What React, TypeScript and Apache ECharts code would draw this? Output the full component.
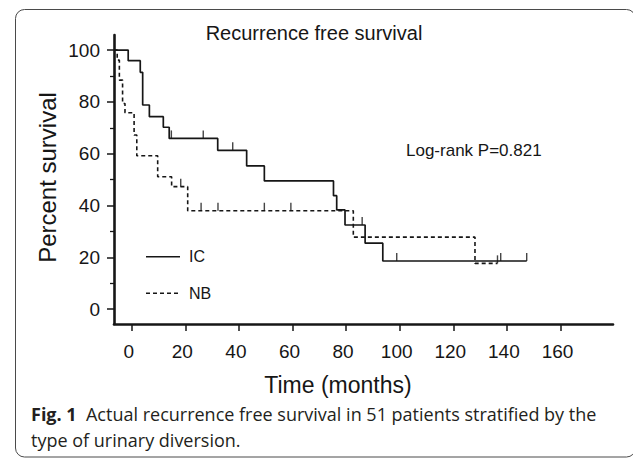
import React, { useEffect, useRef } from "react";
import * as echarts from "echarts";

// ---- Data ----
const xTicks = [0, 20, 40, 60, 80, 100, 120, 140, 160];
const yTicks = [0, 20, 40, 60, 80, 100];
const yMinorTicks = [10, 30, 50, 70, 90];

const startTime = -6.6;

// IC group (solid): event times (months) and survival (%) after each step
const icTimes = [startTime, -1.3, 3.2, 4.1, 6.6, 11.8, 14.0, 32.1, 42.9, 49.5, 75.3, 76.5, 79.6, 87.1, 93.7, 147.4];
const icSurv = [100, 95.9, 91.4, 78.8, 74.3, 70.2, 65.9, 61.3, 55.3, 49.5, 43.8, 38.3, 32.5, 25.5, 18.6, 18.6];
const icCensorTimes = [14.8, 26.7, 37.7, 86.0, 98.9, 137.7, 147.4];
const icCensorSurv = [65.9, 65.9, 61.3, 32.5, 18.6, 18.6, 18.6];

// NB group (dashed)
const nbTimes = [startTime, -5.4, -4.6, -3.4, -2.5, 0.9, 1.9, 9.7, 14.9, 20.9, 82.7, 128.1, 136.5];
const nbSurv = [100, 96.1, 88.4, 79.4, 75.8, 67.2, 59.2, 51.1, 47.3, 38.0, 27.8, 17.7, 17.7];
const nbCensorTimes = [18.3, 25.9, 32.2, 49.5, 59.4, 136.5];
const nbCensorSurv = [47.3, 38.0, 38.0, 38.0, 38.0, 17.7];

const chartTitle = "Recurrence free survival";
const yName = "Percent survival";
const xName = "Time (months)";
const statText = "Log-rank P=0.821";
const legendNames = ["IC", "NB"];
const captionLine1 = "  Actual recurrence free survival in 51 patients stratified by the";
const captionLabel = "Fig. 1";
const captionLine2 = "type of urinary diversion.";

const FONT = "'Liberation Sans', Arial, sans-serif";
const CAP_FONT = "'Open Sans', sans-serif";
const INK = "#161616";

export default function App() {
  const ref = useRef<HTMLDivElement>(null);

  useEffect(() => {
    if (!ref.current) return;
    const chart = echarts.init(ref.current, null, { renderer: "svg" });

    const pair = (t: number[], s: number[]) => t.map((v, i) => [v, s[i]]);

    const option: any = {
      animation: false,
      backgroundColor: "#ffffff",
      grid: { left: 114, top: 35, width: 499, height: 289, containLabel: false },
      xAxis: {
        type: "value",
        min: -6.6,
        max: 179.6,
        axisLine: { show: true, onZero: false, lineStyle: { color: INK, width: 2.6 } },
        axisTick: { show: true, customValues: xTicks, length: 7, lineStyle: { color: INK, width: 1.5 } },
        axisLabel: {
          customValues: xTicks,
          fontSize: 19,
          fontFamily: FONT,
          color: INK,
          margin: 18,
          padding: [0, 6, 0, 0],
        },
        splitLine: { show: false },
      },
      yAxis: [
        {
          type: "value",
          min: -5.7,
          max: 105.8,
          axisLine: { show: true, onZero: false, lineStyle: { color: INK, width: 2.6 } },
          axisTick: { show: true, customValues: yTicks, length: 7, lineStyle: { color: INK, width: 1.5 } },
          axisLabel: { customValues: yTicks, fontSize: 19, fontFamily: FONT, color: INK, margin: 14 },
          splitLine: { show: false },
        },
        {
          type: "value",
          min: -5.7,
          max: 105.8,
          position: "left",
          axisLine: { show: false, onZero: false },
          axisTick: { show: true, customValues: yMinorTicks, length: 4, lineStyle: { color: INK, width: 1.3 } },
          axisLabel: { show: false },
          splitLine: { show: false },
        },
      ],
      series: [
        {
          name: legendNames[0],
          type: "line",
          step: "end",
          symbol: "none",
          data: pair(icTimes, icSurv),
          lineStyle: { color: INK, width: 1.7 },
        },
        {
          name: legendNames[1],
          type: "line",
          step: "end",
          symbol: "none",
          data: pair(nbTimes, nbSurv),
          lineStyle: { color: INK, width: 1.6, type: [4, 3] },
        },
        {
          name: "IC censored",
          type: "scatter",
          symbol: "rect",
          symbolSize: [1.4, 8],
          symbolOffset: [0, -4],
          data: pair(icCensorTimes, icCensorSurv),
          itemStyle: { color: INK },
        },
        {
          name: "NB censored",
          type: "scatter",
          symbol: "rect",
          symbolSize: [1.4, 8],
          symbolOffset: [0, -4],
          data: pair(nbCensorTimes, nbCensorSurv),
          itemStyle: { color: INK },
        },
      ],
      graphic: [
        {
          type: "rect",
          shape: { x: 15.5, y: 9.5, width: 620, height: 447.5, r: 9 },
          style: { fill: "none", stroke: "#4a4a4a", lineWidth: 1 },
          silent: true,
        },
        {
          type: "text",
          x: 314,
          y: 33,
          style: { text: chartTitle, font: `20px ${FONT}`, fill: INK, textAlign: "center", textVerticalAlign: "middle" },
        },
        {
          type: "text",
          x: 406,
          y: 150,
          style: { text: statText, font: `17px ${FONT}`, fill: INK, textAlign: "left", textVerticalAlign: "middle" },
        },
        {
          type: "text",
          x: 47,
          y: 177.5,
          rotation: Math.PI / 2,
          style: { text: yName, font: `24px ${FONT}`, fill: INK, textAlign: "center", textVerticalAlign: "middle" },
        },
        {
          type: "text",
          x: 338,
          y: 385,
          style: { text: xName, font: `23px ${FONT}`, fill: INK, textAlign: "center", textVerticalAlign: "middle" },
        },
        {
          type: "line",
          shape: { x1: 146, y1: 256.7, x2: 180, y2: 256.7 },
          style: { stroke: INK, lineWidth: 1.6 },
        },
        {
          type: "text",
          x: 189,
          y: 256.7,
          style: { text: legendNames[0], font: `16px ${FONT}`, fill: INK, textAlign: "left", textVerticalAlign: "middle" },
        },
        {
          type: "line",
          shape: { x1: 146, y1: 293.3, x2: 180, y2: 293.3 },
          style: { stroke: INK, lineWidth: 1.6, lineDash: [4, 3] },
        },
        {
          type: "text",
          x: 189,
          y: 293.3,
          style: { text: legendNames[1], font: `16px ${FONT}`, fill: INK, textAlign: "left", textVerticalAlign: "middle" },
        },
        {
          type: "text",
          x: 31,
          y: 414,
          style: {
            text: `{b|${captionLabel}}${captionLine1}`,
            font: `18px ${CAP_FONT}`,
            fill: "#231f20",
            textAlign: "left",
            textVerticalAlign: "middle",
            rich: {
              b: { fontWeight: "bold", fontSize: 18, fontFamily: CAP_FONT, fill: "#231f20" },
            },
          },
        },
        {
          type: "text",
          x: 31,
          y: 440,
          style: {
            text: captionLine2,
            font: `18px ${CAP_FONT}`,
            fill: "#231f20",
            textAlign: "left",
            textVerticalAlign: "middle",
          },
        },
      ],
    };

    chart.setOption(option);
    return () => chart.dispose();
  }, []);

  return (
    <div
      ref={ref}
      style={{ position: "fixed", left: 0, top: 0, width: 633, height: 458, background: "#fff" }}
    />
  );
}
